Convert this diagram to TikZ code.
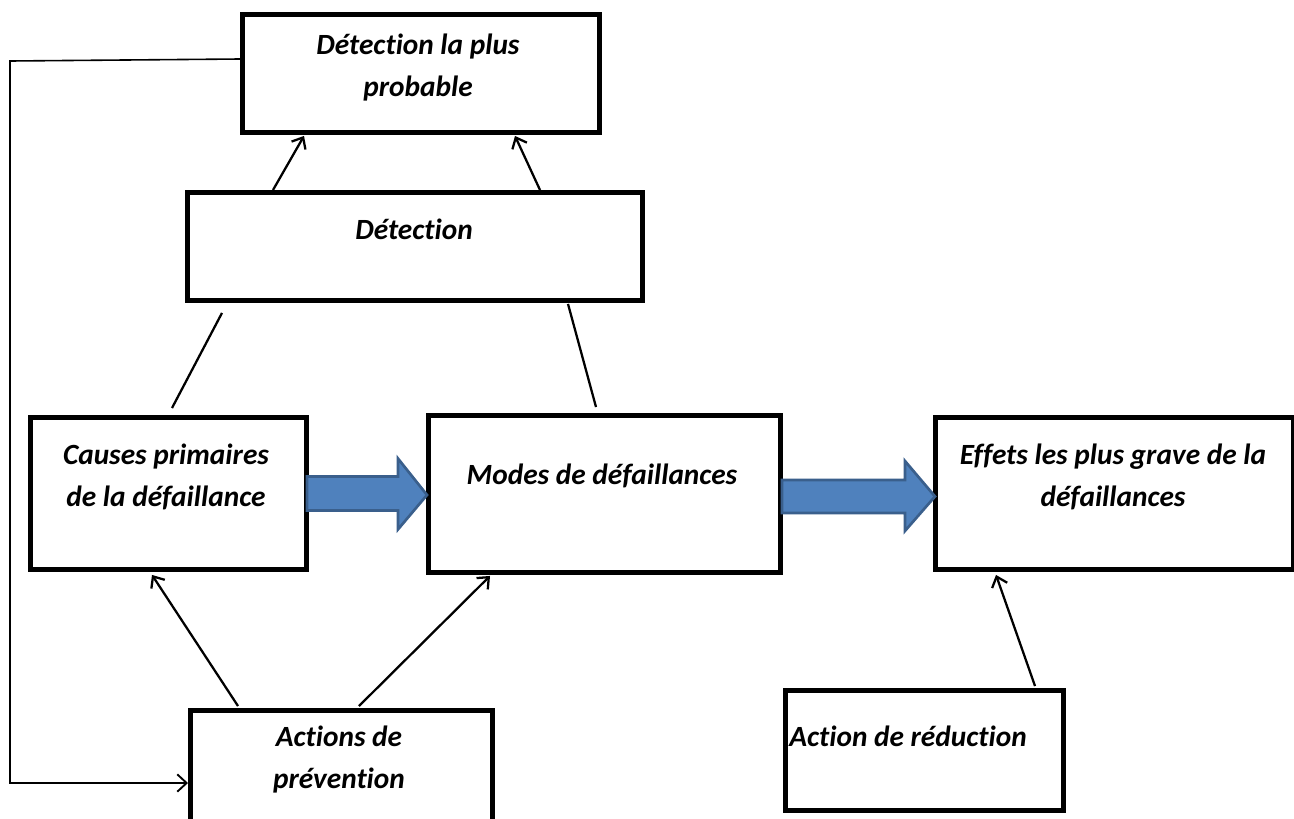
\documentclass[tikz,border=0pt]{standalone}
\usepackage{fontspec}
\setmainfont{Carlito}[Ligatures=NoCommon]
\usetikzlibrary{arrows.meta,calc}
\definecolor{arrowfill}{HTML}{4F81BD}
\definecolor{arrowedge}{HTML}{3A5F8C}

\begin{document}
\begin{tikzpicture}[x=0.75pt,y=-0.75pt,
  box/.style={draw, line width=3.7pt, rectangle, inner sep=0pt, anchor=north west},
  lbl/.style={font=\fontsize{22pt}{31.5pt}\selectfont\bfseries\itshape, align=center, inner sep=0pt},
  link/.style={line width=1.7pt},
  arr/.style={line width=1.7pt, -{Straight Barb[length=7pt,width=12pt,line width=1.7pt]}},
  fatarrow/.style={fill=arrowfill, draw=arrowedge, line width=2pt, line join=miter}]

\clip (0,0) rectangle (1294,818);
\fill[white] (0,0) rectangle (1294,818);

% boxes
\node[box, minimum width=267.75pt, minimum height=88.5pt] (prob) at (240,12) {};
\node[box, minimum width=341.25pt, minimum height=81pt] (det) at (185,190) {};
\node[box, minimum width=207pt, minimum height=114pt] (causes) at (28,415) {};
\node[box, minimum width=264pt, minimum height=117.75pt] (modes) at (426,413) {};
\node[box, minimum width=268.5pt, minimum height=114pt] (effets) at (933,415) {};
\node[box, minimum width=226.5pt, minimum height=99pt] (prev) at (188,708) {};
\node[box, minimum width=208.5pt, minimum height=90pt] (red) at (783,688) {};

% texts
\node[lbl] (tprob) at (418,68) {Détection la plus\\probable};
\node[lbl] (tdet) at (414,229) {Détection};
\node[lbl] (tcauses) at (166,477) {Causes primaires\\de la défaillance};
\node[lbl] (tmodes) at (602,476) {Modes de défaillances};
\node[lbl] (teffets) at (1113,477) {Effets les plus grave de la\\défaillances};
\node[lbl] (tprev) at (339,759) {Actions de\\prévention};
\node[lbl] (tred) at (908,736) {Action de réduction};

% broad arrows between the main boxes
\draw[fatarrow] ($(causes.east)+(-2,-17)$) -- ++(91,0) -- ++(0,-18) -- ($(modes.west)+(1,1)$)
  -- ($(causes.east)+(89,36)$) -- ++(0,-19) -- ++(-91,0) -- cycle;
\draw[fatarrow] ($(modes.east)+(-1,-14)$) -- ++(123,0) -- ++(0,-19) -- ($(effets.west)+(2,3)$)
  -- ($(modes.east)+(122,37)$) -- ++(0,-18) -- ++(-123,0) -- cycle;

% connectors
\coordinate (a1) at ($(det.north west)+(88,0)$);
\coordinate (b1) at ($(prob.south west)+(64,1)$);
\draw[arr] (a1) -- (b1);
\coordinate (a2) at ($(det.north west)+(355,0)$);
\coordinate (b2) at ($(prob.south west)+(275,1)$);
\draw[arr] (a2) -- (b2);

\coordinate (c1) at ($(causes.north west)+(144,-7)$);
\coordinate (d1) at ($(det.south west)+(37,10)$);
\draw[link] (c1) -- (d1);
\coordinate (c2) at ($(modes.north west)+(170,-6)$);
\coordinate (d2) at ($(det.south west)+(383,1)$);
\draw[link] (c2) -- (d2);

\coordinate (p1) at ($(prev.north west)+(50,-2)$);
\coordinate (q1) at ($(causes.south west)+(124,3)$);
\draw[arr] (p1) -- (q1);
\coordinate (p2) at ($(prev.north west)+(171,-2)$);
\coordinate (q2) at ($(modes.south west)+(64,1)$);
\draw[arr] (p2) -- (q2);

\coordinate (r1) at ($(red.north west)+(252,-2)$);
\coordinate (s1) at ($(effets.south west)+(63,3)$);
\draw[arr] (r1) -- (s1);

% feedback loop back to the prevention actions
\coordinate (fb) at (prob.west |- 0,59);
\coordinate (ft) at (10,61);
\coordinate (fm) at (10,783);
\coordinate (fe) at (prev.west |- 0,783);
\draw[line width=1.2pt, -{Straight Barb[length=7pt,width=13pt,line width=1.4pt]}]
  (fb) -- (ft) -- (fm) -- (fe);
\end{tikzpicture}
\end{document}
